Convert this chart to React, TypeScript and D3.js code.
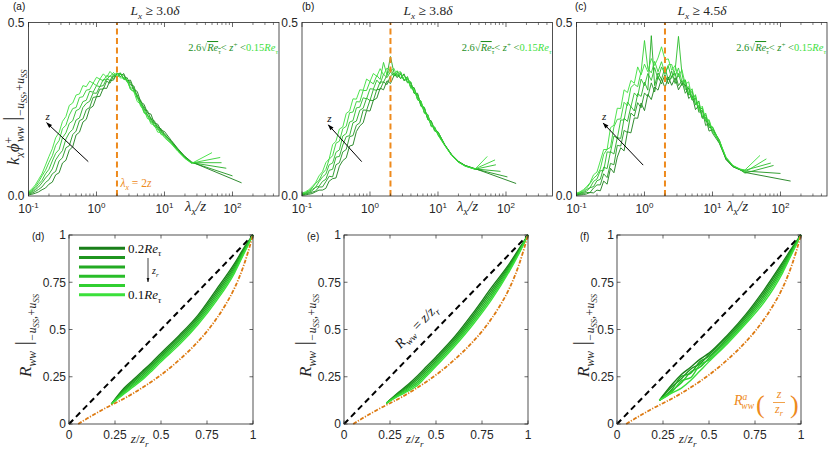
import * as d3 from "d3";

// lambda_x / z sample points shared by the premultiplied spectra (top row)
const LAMBDA = [
  0.1, 0.112, 0.126, 0.141, 0.158, 0.178, 0.2, 0.224, 0.251, 0.282, 0.316, 0.355, 0.398, 0.447, 0.501,
  0.562, 0.631, 0.708, 0.794, 0.891, 1, 1.12, 1.26, 1.41, 1.58, 1.78, 2, 2.24, 2.51, 2.82, 3.16, 3.55,
  3.98, 4.47, 5.01, 5.62, 6.31, 7.08, 7.94, 8.91, 10, 12.6, 15.8, 20, 25.1,
];

// (a) L_x >= 3.0 delta, dark (low z) -> bright (high z)
const SPEC_A = [
  [0.003, 0.005, 0.008, 0.012, 0.018, 0.023, 0.034, 0.040, 0.061, 0.067, 0.095, 0.103, 0.132, 0.142, 0.176, 0.184, 0.213, 0.221, 0.252, 0.259, 0.286, 0.287, 0.311, 0.310, 0.333, 0.334, 0.354, 0.344, 0.353, 0.332, 0.334, 0.308, 0.301, 0.271, 0.264, 0.239, 0.236, 0.210, 0.207, 0.189, 0.186, 0.160, 0.136, 0.114, 0.098],
  [0.005, 0.008, 0.013, 0.019, 0.026, 0.039, 0.047, 0.064, 0.071, 0.101, 0.110, 0.139, 0.145, 0.177, 0.187, 0.217, 0.222, 0.249, 0.255, 0.284, 0.286, 0.308, 0.308, 0.331, 0.325, 0.346, 0.343, 0.355, 0.339, 0.341, 0.320, 0.317, 0.285, 0.276, 0.250, 0.246, 0.221, 0.217, 0.197, 0.194, 0.178, 0.158, 0.134, 0.113, 0.097],
  [0.007, 0.011, 0.018, 0.026, 0.038, 0.052, 0.063, 0.078, 0.104, 0.119, 0.131, 0.164, 0.182, 0.192, 0.219, 0.225, 0.255, 0.267, 0.273, 0.297, 0.296, 0.316, 0.318, 0.338, 0.333, 0.350, 0.340, 0.351, 0.349, 0.328, 0.329, 0.302, 0.291, 0.263, 0.258, 0.231, 0.226, 0.202, 0.202, 0.184, 0.179, 0.156, 0.133, 0.112, 0.096],
  [0.008, 0.014, 0.022, 0.034, 0.045, 0.064, 0.077, 0.101, 0.123, 0.134, 0.168, 0.182, 0.209, 0.217, 0.246, 0.251, 0.272, 0.276, 0.302, 0.299, 0.318, 0.315, 0.336, 0.334, 0.347, 0.338, 0.352, 0.354, 0.337, 0.335, 0.312, 0.309, 0.280, 0.271, 0.241, 0.235, 0.213, 0.212, 0.191, 0.188, 0.172, 0.154, 0.131, 0.110, 0.096],
  [0.010, 0.017, 0.027, 0.041, 0.058, 0.074, 0.097, 0.116, 0.146, 0.160, 0.194, 0.204, 0.233, 0.252, 0.255, 0.284, 0.286, 0.305, 0.307, 0.325, 0.318, 0.337, 0.332, 0.347, 0.344, 0.356, 0.344, 0.353, 0.336, 0.334, 0.308, 0.302, 0.287, 0.258, 0.249, 0.223, 0.220, 0.200, 0.196, 0.177, 0.175, 0.152, 0.130, 0.109, 0.095],
  [0.012, 0.020, 0.032, 0.048, 0.064, 0.089, 0.114, 0.136, 0.168, 0.183, 0.215, 0.229, 0.261, 0.268, 0.291, 0.294, 0.318, 0.315, 0.331, 0.325, 0.342, 0.337, 0.352, 0.342, 0.359, 0.348, 0.355, 0.340, 0.341, 0.333, 0.307, 0.300, 0.272, 0.265, 0.239, 0.232, 0.208, 0.205, 0.184, 0.183, 0.168, 0.150, 0.128, 0.108, 0.094],
];
const TAIL_A = [[[136, 0.038]], [[100, 0.058]], [[81, 0.080]], [[69, 0.096]], [[66, 0.111]], [[50, 0.125]]];

// (b) L_x >= 3.8 delta
const SPEC_B = [
  [0.002, 0.003, 0.005, 0.007, 0.012, 0.017, 0.017, 0.022, 0.043, 0.050, 0.052, 0.086, 0.102, 0.110, 0.144, 0.147, 0.186, 0.202, 0.211, 0.246, 0.245, 0.276, 0.282, 0.311, 0.306, 0.332, 0.324, 0.346, 0.353, 0.338, 0.352, 0.328, 0.326, 0.296, 0.296, 0.261, 0.254, 0.220, 0.217, 0.192, 0.185, 0.148, 0.120, 0.100, 0.088],
  [0.003, 0.005, 0.008, 0.011, 0.014, 0.026, 0.026, 0.041, 0.057, 0.055, 0.090, 0.096, 0.127, 0.134, 0.171, 0.174, 0.204, 0.211, 0.248, 0.247, 0.276, 0.275, 0.307, 0.307, 0.329, 0.321, 0.346, 0.354, 0.341, 0.351, 0.334, 0.344, 0.315, 0.312, 0.277, 0.271, 0.240, 0.235, 0.203, 0.199, 0.177, 0.147, 0.119, 0.099, 0.088],
  [0.004, 0.007, 0.010, 0.015, 0.025, 0.028, 0.042, 0.048, 0.074, 0.077, 0.112, 0.114, 0.147, 0.171, 0.174, 0.211, 0.216, 0.247, 0.253, 0.282, 0.275, 0.307, 0.304, 0.329, 0.328, 0.349, 0.402, 0.357, 0.344, 0.355, 0.332, 0.337, 0.328, 0.297, 0.292, 0.258, 0.253, 0.223, 0.215, 0.187, 0.184, 0.147, 0.119, 0.099, 0.087],
  [0.006, 0.008, 0.013, 0.019, 0.025, 0.041, 0.055, 0.063, 0.090, 0.095, 0.126, 0.133, 0.173, 0.180, 0.213, 0.217, 0.254, 0.256, 0.283, 0.280, 0.309, 0.308, 0.334, 0.323, 0.351, 0.341, 0.358, 0.345, 0.356, 0.358, 0.335, 0.339, 0.312, 0.311, 0.282, 0.274, 0.240, 0.233, 0.200, 0.198, 0.177, 0.146, 0.118, 0.098, 0.087],
  [0.007, 0.010, 0.015, 0.023, 0.036, 0.045, 0.065, 0.076, 0.106, 0.116, 0.152, 0.158, 0.194, 0.201, 0.240, 0.242, 0.272, 0.271, 0.304, 0.304, 0.330, 0.323, 0.347, 0.336, 0.385, 0.348, 0.369, 0.348, 0.361, 0.338, 0.350, 0.326, 0.329, 0.296, 0.293, 0.261, 0.256, 0.220, 0.215, 0.189, 0.185, 0.146, 0.118, 0.098, 0.086],
  [0.008, 0.012, 0.018, 0.027, 0.038, 0.058, 0.070, 0.096, 0.107, 0.148, 0.158, 0.193, 0.199, 0.238, 0.245, 0.280, 0.279, 0.306, 0.305, 0.337, 0.330, 0.353, 0.345, 0.367, 0.349, 0.369, 0.358, 0.368, 0.346, 0.356, 0.335, 0.343, 0.310, 0.306, 0.277, 0.274, 0.238, 0.233, 0.203, 0.198, 0.175, 0.145, 0.117, 0.097, 0.086],
];
const TAIL_B = [
  [[35, 0.079], [141, 0.036]],
  [[35, 0.078], [105, 0.055]],
  [[35, 0.078], [83, 0.071]],
  [[35, 0.077], [71, 0.090]],
  [[35, 0.078], [69, 0.104]],
  [[35, 0.077], [53, 0.114]],
];

// (c) L_x >= 4.5 delta
const SPEC_C = [
  [0.002, 0.003, 0.004, 0.006, 0.010, 0.009, 0.017, 0.015, 0.043, 0.034, 0.080, 0.067, 0.112, 0.139, 0.130, 0.185, 0.182, 0.225, 0.224, 0.268, 0.246, 0.293, 0.278, 0.314, 0.305, 0.338, 0.312, 0.343, 0.319, 0.341, 0.306, 0.324, 0.321, 0.281, 0.290, 0.249, 0.261, 0.224, 0.226, 0.187, 0.192, 0.162, 0.105, 0.084, 0.076],
  [0.003, 0.005, 0.007, 0.010, 0.010, 0.023, 0.032, 0.032, 0.064, 0.053, 0.094, 0.090, 0.146, 0.144, 0.189, 0.183, 0.239, 0.230, 0.269, 0.254, 0.297, 0.286, 0.326, 0.300, 0.345, 0.323, 0.350, 0.323, 0.346, 0.354, 0.318, 0.332, 0.296, 0.311, 0.276, 0.282, 0.241, 0.247, 0.203, 0.210, 0.181, 0.152, 0.106, 0.085, 0.076],
  [0.004, 0.007, 0.010, 0.014, 0.024, 0.027, 0.044, 0.048, 0.083, 0.079, 0.128, 0.121, 0.168, 0.166, 0.224, 0.215, 0.258, 0.245, 0.295, 0.287, 0.328, 0.305, 0.462, 0.318, 0.355, 0.336, 0.371, 0.334, 0.360, 0.324, 0.353, 0.318, 0.334, 0.290, 0.302, 0.262, 0.274, 0.227, 0.234, 0.197, 0.199, 0.154, 0.108, 0.086, 0.077],
  [0.006, 0.008, 0.012, 0.019, 0.024, 0.042, 0.049, 0.073, 0.073, 0.127, 0.126, 0.173, 0.166, 0.219, 0.219, 0.271, 0.257, 0.297, 0.286, 0.337, 0.318, 0.353, 0.333, 0.370, 0.336, 0.372, 0.352, 0.374, 0.339, 0.362, 0.460, 0.354, 0.307, 0.315, 0.278, 0.292, 0.246, 0.254, 0.215, 0.217, 0.186, 0.156, 0.109, 0.086, 0.077],
  [0.007, 0.010, 0.015, 0.023, 0.036, 0.051, 0.060, 0.078, 0.120, 0.135, 0.140, 0.199, 0.221, 0.222, 0.270, 0.260, 0.313, 0.322, 0.315, 0.358, 0.448, 0.367, 0.355, 0.388, 0.358, 0.387, 0.353, 0.378, 0.379, 0.345, 0.369, 0.330, 0.335, 0.294, 0.309, 0.264, 0.269, 0.227, 0.239, 0.202, 0.199, 0.158, 0.111, 0.087, 0.078],
  [0.008, 0.012, 0.018, 0.027, 0.038, 0.061, 0.069, 0.101, 0.134, 0.134, 0.197, 0.204, 0.253, 0.252, 0.306, 0.298, 0.333, 0.325, 0.372, 0.349, 0.380, 0.358, 0.396, 0.376, 0.398, 0.430, 0.393, 0.395, 0.362, 0.376, 0.343, 0.364, 0.322, 0.329, 0.280, 0.288, 0.249, 0.259, 0.218, 0.220, 0.188, 0.160, 0.112, 0.088, 0.078],
];
const TAIL_C = [
  [[30, 0.068], [141, 0.043]],
  [[30, 0.072], [100, 0.065]],
  [[30, 0.066], [79, 0.088]],
  [[30, 0.074], [72, 0.095]],
  [[30, 0.069], [62, 0.107]],
  [[30, 0.075], [50, 0.117]],
];

// annotation arrows (data coords): [start, end]
const ARROW_A = [[0.757, 0.099], [0.185, 0.211]];
const ARROW_B = [[0.755, 0.099], [0.244, 0.205]];
const ARROW_C = [[0.957, 0.089], [0.247, 0.21]];

// bottom row: R_ww vs z / z_r
const ZR = [0.23, 0.3, 0.35, 0.4, 0.45, 0.5, 0.6, 0.7, 0.8, 0.9, 0.95, 1];
const CORR_D = [
  [0.105, 0.190, 0.235, 0.280, 0.326, 0.375, 0.470, 0.575, 0.710, 0.850, 0.930, 1],
  [0.105, 0.184, 0.227, 0.271, 0.317, 0.366, 0.460, 0.565, 0.698, 0.840, 0.924, 1],
  [0.105, 0.178, 0.220, 0.262, 0.308, 0.357, 0.450, 0.555, 0.686, 0.830, 0.918, 1],
  [0.105, 0.172, 0.212, 0.253, 0.299, 0.348, 0.440, 0.545, 0.674, 0.820, 0.912, 1],
  [0.105, 0.166, 0.205, 0.244, 0.290, 0.339, 0.430, 0.535, 0.662, 0.810, 0.906, 1],
  [0.105, 0.160, 0.197, 0.235, 0.281, 0.330, 0.420, 0.525, 0.650, 0.800, 0.900, 1],
];
const CORR_E = [
  [0.110, 0.170, 0.210, 0.255, 0.305, 0.355, 0.460, 0.585, 0.720, 0.850, 0.925, 1],
  [0.110, 0.166, 0.203, 0.245, 0.295, 0.345, 0.450, 0.573, 0.707, 0.842, 0.920, 1],
  [0.110, 0.162, 0.196, 0.235, 0.285, 0.335, 0.440, 0.561, 0.694, 0.834, 0.915, 1],
  [0.110, 0.158, 0.189, 0.225, 0.275, 0.325, 0.430, 0.549, 0.681, 0.826, 0.910, 1],
  [0.110, 0.154, 0.182, 0.215, 0.265, 0.315, 0.420, 0.537, 0.668, 0.818, 0.905, 1],
  [0.110, 0.150, 0.175, 0.205, 0.255, 0.305, 0.410, 0.525, 0.655, 0.810, 0.900, 1],
];
const CORR_F = [
  [0.125, 0.210, 0.262, 0.300, 0.342, 0.375, 0.470, 0.580, 0.710, 0.855, 0.930, 1],
  [0.125, 0.198, 0.240, 0.290, 0.318, 0.366, 0.461, 0.570, 0.697, 0.844, 0.924, 1],
  [0.125, 0.185, 0.252, 0.268, 0.330, 0.357, 0.452, 0.560, 0.684, 0.833, 0.918, 1],
  [0.125, 0.178, 0.218, 0.275, 0.300, 0.348, 0.443, 0.550, 0.671, 0.822, 0.912, 1],
  [0.125, 0.170, 0.228, 0.245, 0.312, 0.339, 0.434, 0.540, 0.658, 0.811, 0.906, 1],
  [0.125, 0.165, 0.190, 0.230, 0.280, 0.330, 0.425, 0.530, 0.645, 0.800, 0.900, 1],
];
const RA_X = [0.05, 0.1, 0.15, 0.2, 0.25, 0.3, 0.35, 0.4, 0.45, 0.5, 0.55, 0.6, 0.65, 0.7, 0.75, 0.8, 0.85, 0.9, 0.95, 1];
const RA_Y = [0, 0.03, 0.058, 0.085, 0.11, 0.135, 0.163, 0.193, 0.225, 0.26, 0.298, 0.34, 0.385, 0.435, 0.49, 0.555, 0.63, 0.72, 0.84, 1];

const LOG_TICKS = [0.1, 1, 10, 100];
const LOG_TICK_EXP = ["-1", "0", "1", "2"];
const LIN_TICKS = [0, 0.25, 0.5, 0.75, 1];
const LIN_TICK_LABELS = ["0", "0.25", "0.5", "0.75", "1"];

const GREENS = ["#1a7f1a", "#1f951f", "#23aa23", "#29bd29", "#31cf31", "#3be03b"];
const DARK_TXT = "#1e8f1e";
const BRIGHT_TXT = "#3ee03e";
const ORANGE = "#ee8a1c";
const ORANGE_DD = "#dd7a12";
const AXIS = "#262626";
const SERIF = "'Liberation Serif', 'DejaVu Serif', serif";
const SANS = "'Liberation Sans', Arial, sans-serif";

const TOP_W = 250.5;
const TOP_Y0 = 22.5;
const TOP_Y1 = 196;
const BOT_W = 184;
const BOT_Y0 = 235;
const BOT_Y1 = 424;

type Seg = { t: string; k?: "n" | "sub" | "sup" | "ss"; it?: boolean; fill?: string; dx?: number; scale?: number; over?: boolean };

function Rich({ x = 0, y = 0, size, segs, anchor = "start", fill = AXIS, transform }: {
  x?: number; y?: number; size: number; segs: Seg[]; anchor?: string; fill?: string; transform?: string;
}) {
  let cur = 0;
  const kids = segs.map((s, i) => {
    const k = s.k ?? "n";
    const off = k === "sub" ? size * 0.28 : k === "sup" ? -size * 0.38 : k === "ss" ? size * 0.45 : 0;
    const fs = (k === "n" ? size : k === "ss" ? size * 0.5 : size * 0.68) * (s.scale ?? 1);
    const dy = off - cur;
    cur = off;
    return (
      <tspan key={i} dy={dy} dx={s.dx} fontSize={fs} fontStyle={s.it === false ? "normal" : "italic"}
        fill={s.fill} style={s.over ? { textDecoration: "overline" } : undefined}>
        {s.t}
      </tspan>
    );
  });
  return (
    <text x={x} y={y} textAnchor={anchor} fontFamily={SERIF} fill={fill} transform={transform}>
      {kids}
    </text>
  );
}

function SpectrumPanel(p: {
  left: number; curves: number[][]; tails: number[][][]; tag: string; tagX: number; lx: string;
  titleX: number; xLabelX: number; yLabel?: boolean; note?: boolean; arrow: number[][];
}) {
  const right = p.left + TOP_W;
  const x = d3.scaleLog().domain([0.1, 483]).range([p.left, right]);
  const y = d3.scaleLinear().domain([0, 0.5]).range([TOP_Y1, TOP_Y0]);
  const line = d3.line<number[]>().x((d) => x(d[0])).y((d) => y(d[1]));

  const minor: number[] = [];
  for (const dec of LOG_TICKS) for (let m = 2; m <= 9; m++) if (m * dec <= 483) minor.push(m * dec);

  const [a0, a1] = p.arrow;

  return (
    <g>
      {p.curves.map((vals, k) => {
        const pts = LAMBDA.map((l, i) => [l, vals[i]]).concat(p.tails[k]);
        return <path key={k} d={line(pts) ?? ""} fill="none" stroke={GREENS[k]} strokeWidth={0.9} />;
      })}
      <line x1={x(2)} x2={x(2)} y1={y(0)} y2={y(0.5)} stroke={ORANGE} strokeWidth={2} strokeDasharray="6,3.5" />
      <line x1={x(a0[0])} y1={y(a0[1])} x2={x(a1[0])} y2={y(a1[1])} stroke="#000" strokeWidth={1} markerEnd="url(#arr)" />
      <Rich x={x(a1[0]) + 1} y={y(a1[1]) - 3} size={11} segs={[{ t: "z" }]} fill="#111" anchor="middle" />

      <rect x={p.left} y={TOP_Y0} width={TOP_W} height={TOP_Y1 - TOP_Y0} fill="none" stroke={AXIS} strokeWidth={0.8} />
      {LOG_TICKS.map((v) => (
        <g key={v}>
          <line x1={x(v)} x2={x(v)} y1={TOP_Y1} y2={TOP_Y1 - 4.5} stroke={AXIS} strokeWidth={0.7} />
          <line x1={x(v)} x2={x(v)} y1={TOP_Y0} y2={TOP_Y0 + 4.5} stroke={AXIS} strokeWidth={0.7} />
        </g>
      ))}
      {minor.map((v) => (
        <g key={v}>
          <line x1={x(v)} x2={x(v)} y1={TOP_Y1} y2={TOP_Y1 - 2.5} stroke={AXIS} strokeWidth={0.6} />
          <line x1={x(v)} x2={x(v)} y1={TOP_Y0} y2={TOP_Y0 + 2.5} stroke={AXIS} strokeWidth={0.6} />
        </g>
      ))}
      {LOG_TICKS.map((v, i) => (
        <text key={v} x={x(v)} y={213} textAnchor="middle" fontFamily={SANS} fontSize={12} fill={AXIS}>
          10<tspan dy={-5} fontSize={8}>{LOG_TICK_EXP[i]}</tspan>
        </text>
      ))}
      {[0, 0.5].map((v) => (
        <text key={v} x={p.left - 4} y={y(v) + 4.3} textAnchor="end" fontFamily={SANS} fontSize={12} fill={AXIS}>
          {v.toFixed(1)}
        </text>
      ))}

      <Rich x={p.xLabelX} y={211} size={15}
        segs={[{ t: "λ" }, { t: "x", k: "sub" }, { t: "/z", k: "n" }]} />
      <Rich x={p.titleX} y={15} size={13.5} anchor="middle"
        segs={[{ t: "L" }, { t: "x", k: "sub" }, { t: " ≥ " + p.lx, k: "n", it: false }, { t: "δ" }]} />
      <text x={p.tagX} y={10} fontFamily={SANS} fontSize={10} fill="#111">{p.tag}</text>
      <Rich x={right - 1} y={51} size={10.5} anchor="end"
        segs={[
          { t: "2.6", it: false, fill: DARK_TXT },
          { t: "√", it: false, fill: DARK_TXT },
          { t: "Re", fill: DARK_TXT, over: true },
          { t: "τ", k: "sub", fill: DARK_TXT, over: true },
          { t: "< ", k: "n", it: false, fill: DARK_TXT },
          { t: "z", fill: DARK_TXT },
          { t: "+", k: "sup", it: false, fill: DARK_TXT },
          { t: " <", k: "n", it: false, fill: DARK_TXT },
          { t: "0.15", it: false, fill: BRIGHT_TXT },
          { t: "Re", fill: BRIGHT_TXT },
          { t: "τ", k: "sub", fill: BRIGHT_TXT },
        ]} />
      {p.note && (
        <Rich x={x(2.25)} y={y(0.026)} size={11.5} fill={ORANGE}
          segs={[{ t: "λ" }, { t: "x", k: "sub" }, { t: " = 2", k: "n", it: false }, { t: "z" }]} />
      )}
      {p.yLabel && (
        <Rich transform={`translate(19,${(TOP_Y0 + TOP_Y1) / 2 + 8}) rotate(-90)`} size={17} anchor="middle"
          segs={[
            { t: "k" }, { t: "x", k: "sub" }, { t: "ϕ", k: "n" }, { t: "+", k: "sup", it: false },
            { t: "ww", k: "sub", dx: -5 }, { t: " |", k: "n", it: false, scale: 1.3 },
            { t: "−u", k: "sub" }, { t: "SS", k: "ss" }, { t: ",+u", k: "sub" }, { t: "SS", k: "ss" },
          ]} />
      )}
    </g>
  );
}

function CorrPanel(p: { left: number; curves: number[][]; tag: string; yLabelX: number; legend?: boolean; eqNote?: boolean; raNote?: boolean }) {
  const x = d3.scaleLinear().domain([0, 1]).range([p.left, p.left + BOT_W]);
  const y = d3.scaleLinear().domain([0, 1]).range([BOT_Y1, BOT_Y0]);
  const line = d3.line<number[]>().x((d) => x(d[0])).y((d) => y(d[1])).curve(d3.curveMonotoneX);
  const ra = RA_X.map((v, i) => [v, RA_Y[i]]);
  const L = p.left;

  return (
    <g>
      <line x1={x(0)} y1={y(0)} x2={x(1)} y2={y(1)} stroke="#000" strokeWidth={2} strokeDasharray="6,4" />
      {p.curves.map((vals, k) => (
        <path key={k} d={line(ZR.map((z, i) => [z, vals[i]])) ?? ""} fill="none" stroke={GREENS[k]} strokeWidth={1.4} />
      ))}
      <path d={line(ra) ?? ""} fill="none" stroke={ORANGE_DD} strokeWidth={1.8} strokeDasharray="4,1.5,1.2,1.5" />

      <rect x={L} y={BOT_Y0} width={BOT_W} height={BOT_Y1 - BOT_Y0} fill="none" stroke={AXIS} strokeWidth={0.8} />
      {LIN_TICKS.map((v) => (
        <g key={v} stroke={AXIS} strokeWidth={0.7}>
          <line x1={x(v)} x2={x(v)} y1={BOT_Y1} y2={BOT_Y1 - 3.5} />
          <line x1={x(v)} x2={x(v)} y1={BOT_Y0} y2={BOT_Y0 + 3.5} />
          <line x1={L} x2={L + 3.5} y1={y(v)} y2={y(v)} />
          <line x1={L + BOT_W} x2={L + BOT_W - 3.5} y1={y(v)} y2={y(v)} />
        </g>
      ))}
      {LIN_TICKS.map((v, i) => (
        <g key={v} fontFamily={SANS} fontSize={12} fill={AXIS}>
          <text x={x(v)} y={438.5} textAnchor="middle">{LIN_TICK_LABELS[i]}</text>
          <text x={L - 3} y={y(v) + 4.3} textAnchor="end">{LIN_TICK_LABELS[i]}</text>
        </g>
      ))}
      <text x={L - 37} y={240} fontFamily={SANS} fontSize={10} fill="#111">{p.tag}</text>
      <Rich x={x(0.384)} y={443} size={13.5} anchor="middle"
        segs={[{ t: "z" }, { t: "/", it: false }, { t: "z" }, { t: "r", k: "sub" }]} />
      <Rich transform={`translate(${p.yLabelX},${(BOT_Y0 + BOT_Y1) / 2 + 6}) rotate(-90)`} size={17} anchor="middle"
        segs={[
          { t: "R" }, { t: "ww", k: "sub" }, { t: " |", k: "n", it: false, scale: 1.3 },
          { t: "−u", k: "sub" }, { t: "SS", k: "ss" }, { t: ",+u", k: "sub" }, { t: "SS", k: "ss" },
        ]} />

      {p.legend && (
        <g>
          {GREENS.map((c, k) => (
            <line key={c} x1={L + 10} x2={L + 56} y1={248.3 + k * 9.3} y2={248.3 + k * 9.3} stroke={c} strokeWidth={3} />
          ))}
          <Rich x={L + 59} y={252.5} size={13} segs={[{ t: "0.2", it: false }, { t: "Re" }, { t: "τ", k: "sub" }]} fill="#111" />
          <Rich x={L + 59} y={299} size={13} segs={[{ t: "0.1", it: false }, { t: "Re" }, { t: "τ", k: "sub" }]} fill="#111" />
          <line x1={L + 79} x2={L + 79} y1={258} y2={282} stroke="#111" strokeWidth={0.8} markerEnd="url(#arrS)" />
          <Rich x={L + 83} y={274} size={10} segs={[{ t: "z" }, { t: "r", k: "sub" }]} fill="#111" />
        </g>
      )}
      {p.eqNote && (
        <Rich transform={`translate(${x(0.41)},${y(0.5)}) rotate(-46)`} size={14} anchor="middle" fill="#111"
          segs={[{ t: "R" }, { t: "ww", k: "sub" }, { t: " = ", k: "n", it: false }, { t: "z/z" }, { t: "r", k: "sub" }]} />
      )}
      {p.raNote && (
        <g fill={ORANGE}>
          <Rich x={L + 117} y={405} size={14} fill={ORANGE}
            segs={[{ t: "R" }, { t: "a", k: "sup" }, { t: "ww", k: "sub", dx: -6 }]} />
          <text x={L + 139} y={413} fontFamily={SERIF} fontSize={26} fill={ORANGE}>(</text>
          <Rich x={L + 162} y={398} size={12} anchor="middle" fill={ORANGE} segs={[{ t: "z" }]} />
          <line x1={L + 156} x2={L + 168} y1={402.5} y2={402.5} stroke={ORANGE} strokeWidth={0.8} />
          <Rich x={L + 162} y={413} size={12} anchor="middle" fill={ORANGE} segs={[{ t: "z" }, { t: "r", k: "sub" }]} />
          <text x={L + 173} y={413} fontFamily={SERIF} fontSize={26} fill={ORANGE}>)</text>
        </g>
      )}
    </g>
  );
}

export default function App() {
  return (
    <svg width={830} height={450} viewBox="0 0 830 450"
      style={{ position: "absolute", left: 0, top: 0, background: "#fff", display: "block" }}>
      <defs>
        <marker id="arr" viewBox="0 0 10 10" refX="9" refY="5" markerWidth="7" markerHeight="6" orient="auto">
          <path d="M0,1.5 L10,5 L0,8.5 z" fill="#000" />
        </marker>
        <marker id="arrS" viewBox="0 0 10 10" refX="9" refY="5" markerWidth="6" markerHeight="6" orient="auto">
          <path d="M0,2 L10,5 L0,8 z" fill="#111" />
        </marker>
      </defs>
      <rect width={830} height={450} fill="#fff" />
      <SpectrumPanel left={28.5} curves={SPEC_A} tails={TAIL_A} tag="(a)" tagX={13} lx="3.0" titleX={155}
        xLabelX={185} yLabel note arrow={ARROW_A} />
      <SpectrumPanel left={302} curves={SPEC_B} tails={TAIL_B} tag="(b)" tagX={302} lx="3.8" titleX={428}
        xLabelX={457} arrow={ARROW_B} />
      <SpectrumPanel left={576.5} curves={SPEC_C} tails={TAIL_C} tag="(c)" tagX={575} lx="4.5" titleX={702}
        xLabelX={727} arrow={ARROW_C} />
      <CorrPanel left={69} curves={CORR_D} tag="(d)" yLabelX={31} legend />
      <CorrPanel left={344} curves={CORR_E} tag="(e)" yLabelX={311} eqNote />
      <CorrPanel left={617} curves={CORR_F} tag="(f)" yLabelX={589} raNote />
    </svg>
  );
}
